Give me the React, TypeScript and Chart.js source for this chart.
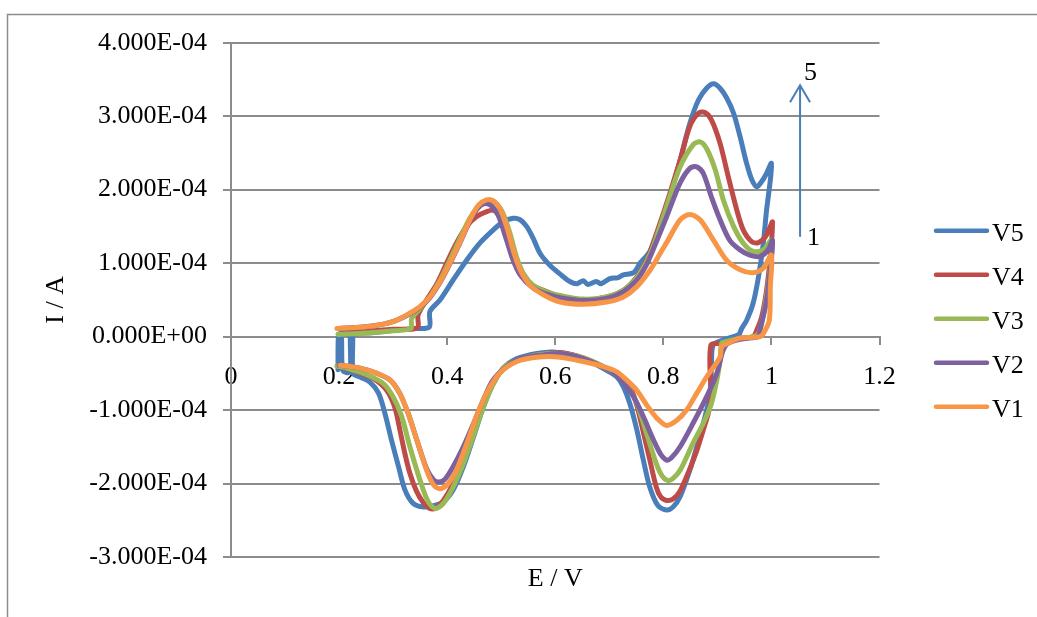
import React, { useEffect, useRef } from 'react';
import { Chart, registerables } from 'chart.js';

Chart.register(...registerables);

// Currents are listed in units of 1e-4 A, potentials in V.
const I_UNIT = 1e-4;

const xTickValues = [0, 0.2, 0.4, 0.6, 0.8, 1, 1.2];
const xTickLabels = ['0', '0.2', '0.4', '0.6', '0.8', '1', '1.2'];
const yTickValues = [-3e-4, -2e-4, -1e-4, 0, 1e-4, 2e-4, 3e-4, 4e-4];
const yTickLabels = ['-3.000E-04', '-2.000E-04', '-1.000E-04', '0.000E+00', '1.000E-04', '2.000E-04', '3.000E-04', '4.000E-04'];

const seriesNames = ['V5', 'V4', 'V3', 'V2', 'V1'];
const seriesColors = ['#4A7EBB', '#BE4B48', '#98B954', '#7D60A0', '#F79646'];

// [E (V), I (1e-4 A)] in scan order
const v5Points: [number, number][] = [
  [0.2, 0.02], [0.233, 0.04], [0.27, 0.06], [0.306, 0.09], [0.34, 0.11], [0.367, 0.13], [0.368, 0.34],
  [0.387, 0.5], [0.411, 0.77], [0.436, 1.04], [0.46, 1.27], [0.485, 1.45], [0.503, 1.56], [0.522, 1.61],
  [0.535, 1.59], [0.547, 1.5], [0.559, 1.34], [0.572, 1.13], [0.59, 0.97], [0.609, 0.85], [0.627, 0.75],
  [0.64, 0.72], [0.652, 0.76], [0.66, 0.71], [0.676, 0.75], [0.685, 0.72], [0.701, 0.79], [0.715, 0.8],
  [0.726, 0.84], [0.745, 0.87], [0.757, 1.0], [0.775, 1.16], [0.794, 1.5], [0.812, 1.9], [0.831, 2.4],
  [0.849, 2.9], [0.865, 3.22], [0.88, 3.38], [0.893, 3.44], [0.905, 3.38], [0.917, 3.25], [0.93, 3.04],
  [0.942, 2.72], [0.954, 2.36], [0.964, 2.13], [0.973, 2.04], [0.982, 2.11], [0.991, 2.22], [1.0, 2.36],
  [0.998, 2.13], [0.991, 1.72], [0.985, 1.27], [0.976, 0.81], [0.966, 0.45], [0.954, 0.22], [0.945, 0.11],
  [0.94, 0.03], [0.93, 0.0], [0.91, -0.05], [0.892, -0.12], [0.889, -0.45], [0.886, -0.8], [0.874, -1.18],
  [0.862, -1.5], [0.849, -1.82], [0.831, -2.18], [0.818, -2.32], [0.806, -2.36], [0.79, -2.3], [0.775, -2.05],
  [0.763, -1.68], [0.751, -1.27], [0.738, -0.91], [0.726, -0.68], [0.714, -0.55], [0.695, -0.46],
  [0.664, -0.34], [0.633, -0.25], [0.596, -0.21], [0.566, -0.23], [0.529, -0.3], [0.504, -0.43],
  [0.485, -0.64], [0.467, -0.96], [0.449, -1.36], [0.43, -1.77], [0.411, -2.09], [0.393, -2.25],
  [0.375, -2.3], [0.356, -2.32], [0.337, -2.27], [0.322, -2.09], [0.31, -1.77], [0.297, -1.41],
  [0.285, -1.05], [0.273, -0.77], [0.257, -0.62], [0.239, -0.55], [0.226, -0.5], [0.225, 0.03],
  [0.221, 0.03], [0.22, -0.48], [0.207, -0.46], [0.204, 0.03], [0.199, 0.03], [0.198, -0.45],
];

const v4Points: [number, number][] = [
  [0.205, 0.05], [0.25, 0.07], [0.3, 0.1], [0.345, 0.12], [0.346, 0.29], [0.362, 0.5], [0.381, 0.72],
  [0.399, 1.0], [0.417, 1.27], [0.436, 1.5], [0.454, 1.63], [0.473, 1.7], [0.485, 1.72], [0.497, 1.66],
  [0.51, 1.45], [0.522, 1.13], [0.535, 0.88], [0.553, 0.72], [0.578, 0.63], [0.609, 0.55], [0.652, 0.5],
  [0.695, 0.54], [0.726, 0.63], [0.751, 0.81], [0.769, 1.04], [0.781, 1.27], [0.806, 1.81], [0.831, 2.4],
  [0.849, 2.86], [0.865, 3.04], [0.877, 3.05], [0.889, 2.95], [0.905, 2.63], [0.92, 2.18], [0.936, 1.72],
  [0.948, 1.45], [0.964, 1.29], [0.976, 1.28], [0.989, 1.36], [0.998, 1.5], [1.002, 1.56],
  [0.998, 1.09], [0.991, 0.63], [0.982, 0.27], [0.973, 0.09], [0.966, 0.0], [0.945, -0.02], [0.935, -0.04],
  [0.91, -0.09], [0.888, -0.12], [0.888, -0.82], [0.883, -1.05], [0.874, -1.27], [0.862, -1.55],
  [0.849, -1.8], [0.831, -2.1], [0.818, -2.21], [0.806, -2.23], [0.795, -2.18], [0.787, -2.05],
  [0.775, -1.68], [0.762, -1.27], [0.75, -0.91], [0.737, -0.66], [0.717, -0.52], [0.695, -0.43],
  [0.652, -0.29], [0.609, -0.22], [0.566, -0.25], [0.529, -0.32], [0.504, -0.43], [0.485, -0.64],
  [0.467, -0.93], [0.449, -1.32], [0.43, -1.68], [0.411, -2.0], [0.393, -2.23], [0.38, -2.33],
  [0.368, -2.34], [0.355, -2.25], [0.343, -2.1], [0.331, -1.86], [0.322, -1.6], [0.312, -1.25],
  [0.303, -0.96], [0.288, -0.73], [0.263, -0.57], [0.233, -0.48], [0.202, -0.41],
];

const v3Points: [number, number][] = [
  [0.198, 0.03], [0.25, 0.05], [0.3, 0.08], [0.333, 0.11], [0.334, 0.24], [0.35, 0.38], [0.368, 0.54],
  [0.387, 0.77], [0.405, 1.04], [0.424, 1.34], [0.442, 1.61], [0.46, 1.79], [0.476, 1.85], [0.491, 1.81],
  [0.503, 1.68], [0.516, 1.41], [0.528, 1.09], [0.541, 0.86], [0.559, 0.7], [0.583, 0.61], [0.609, 0.56],
  [0.652, 0.51], [0.695, 0.54], [0.726, 0.63], [0.751, 0.8], [0.769, 1.02], [0.781, 1.22], [0.806, 1.77],
  [0.831, 2.31], [0.855, 2.61], [0.868, 2.65], [0.88, 2.56], [0.896, 2.27], [0.911, 1.86], [0.93, 1.5],
  [0.948, 1.27], [0.966, 1.16], [0.985, 1.18], [1.0, 1.31],
  [0.998, 0.95], [0.991, 0.55], [0.982, 0.18], [0.975, 0.03], [0.96, -0.01], [0.94, -0.03], [0.915, -0.07],
  [0.908, -0.09], [0.905, -0.32], [0.899, -0.59], [0.889, -0.91], [0.874, -1.18], [0.855, -1.45],
  [0.831, -1.82], [0.818, -1.93], [0.809, -1.96], [0.798, -1.9], [0.787, -1.73], [0.769, -1.32],
  [0.751, -0.91], [0.732, -0.66], [0.714, -0.52], [0.695, -0.43], [0.652, -0.29], [0.609, -0.23],
  [0.566, -0.25], [0.529, -0.32], [0.504, -0.43], [0.485, -0.65], [0.467, -0.96], [0.449, -1.34],
  [0.43, -1.73], [0.411, -2.05], [0.393, -2.27], [0.378, -2.34], [0.365, -2.25], [0.35, -1.96],
  [0.331, -1.5], [0.316, -1.09], [0.3, -0.82], [0.282, -0.64], [0.251, -0.52], [0.214, -0.43], [0.196, -0.4],
];

const v2Points: [number, number][] = [
  [0.2, 0.11], [0.244, 0.13], [0.282, 0.17], [0.306, 0.22], [0.331, 0.31], [0.35, 0.4], [0.368, 0.53],
  [0.387, 0.74], [0.405, 0.99], [0.424, 1.28], [0.442, 1.57], [0.456, 1.74], [0.469, 1.81], [0.482, 1.78],
  [0.495, 1.64], [0.51, 1.31], [0.522, 1.04], [0.535, 0.84], [0.559, 0.66], [0.583, 0.58], [0.609, 0.53],
  [0.652, 0.49], [0.695, 0.52], [0.726, 0.61], [0.751, 0.77], [0.769, 0.98], [0.781, 1.18], [0.806, 1.63],
  [0.831, 2.09], [0.849, 2.29], [0.862, 2.31], [0.874, 2.22], [0.889, 1.9], [0.905, 1.59], [0.923, 1.31],
  [0.942, 1.18], [0.96, 1.11], [0.979, 1.09], [0.994, 1.18], [1.002, 1.31],
  [0.998, 0.91], [0.99, 0.45], [0.98, 0.13], [0.975, 0.0], [0.96, -0.02], [0.94, -0.04], [0.918, -0.1],
  [0.91, -0.2], [0.899, -0.5], [0.88, -0.82], [0.855, -1.18], [0.831, -1.5], [0.815, -1.65], [0.806, -1.68],
  [0.795, -1.6], [0.782, -1.41], [0.763, -1.09], [0.745, -0.82], [0.726, -0.62], [0.71, -0.5], [0.69, -0.42],
  [0.652, -0.3], [0.609, -0.23], [0.578, -0.25], [0.535, -0.3], [0.51, -0.41], [0.485, -0.59],
  [0.467, -0.86], [0.449, -1.18], [0.43, -1.5], [0.411, -1.77], [0.396, -1.94], [0.385, -1.98],
  [0.375, -1.95], [0.362, -1.8], [0.344, -1.41], [0.328, -1.05], [0.312, -0.77], [0.294, -0.59],
  [0.27, -0.5], [0.239, -0.43], [0.2, -0.39],
];

const v1Points: [number, number][] = [
  [0.196, 0.11], [0.244, 0.13], [0.282, 0.17], [0.306, 0.22], [0.331, 0.32], [0.35, 0.41], [0.368, 0.54],
  [0.387, 0.75], [0.405, 1.0], [0.424, 1.29], [0.442, 1.59], [0.458, 1.79], [0.473, 1.86], [0.485, 1.85],
  [0.497, 1.75], [0.51, 1.5], [0.522, 1.18], [0.535, 0.91], [0.553, 0.7], [0.578, 0.57], [0.609, 0.47],
  [0.652, 0.44], [0.695, 0.47], [0.726, 0.54], [0.751, 0.68], [0.776, 0.91], [0.794, 1.13], [0.81, 1.33],
  [0.831, 1.59], [0.849, 1.66], [0.868, 1.59], [0.893, 1.31], [0.917, 1.04], [0.942, 0.91], [0.966, 0.87],
  [0.985, 0.93], [1.0, 1.11],
  [0.998, 0.68], [0.996, 0.22], [0.985, 0.04], [0.979, 0.0], [0.967, -0.01], [0.942, -0.02], [0.92, -0.09],
  [0.908, -0.14], [0.905, -0.28], [0.88, -0.55], [0.862, -0.77], [0.843, -1.0], [0.825, -1.14],
  [0.806, -1.21], [0.788, -1.11], [0.769, -0.93], [0.751, -0.73], [0.732, -0.59], [0.714, -0.48],
  [0.689, -0.41], [0.652, -0.34], [0.609, -0.28], [0.566, -0.28], [0.529, -0.34], [0.497, -0.5],
  [0.473, -0.77], [0.454, -1.09], [0.436, -1.46], [0.417, -1.82], [0.402, -2.0], [0.387, -2.07],
  [0.375, -2.02], [0.362, -1.82], [0.344, -1.41], [0.328, -1.05], [0.312, -0.77], [0.294, -0.59],
  [0.27, -0.5], [0.239, -0.43], [0.202, -0.39],
];

const seriesPoints = [v5Points, v4Points, v3Points, v2Points, v1Points];

// Arrow annotation: potential, currents (1e-4 A) at its foot and head, and its labels
const arrowE = [1.053];
const arrowI = [1.36, 3.42];
const arrowLabels = ['1', '5'];

const FONT = "'Liberation Serif', 'Times New Roman', serif";
const GRID = '#8c8c8c';

const decor = {
  id: 'decor',
  beforeDraw(chart: any) {
    const { ctx, width, height } = chart;
    ctx.save();
    ctx.fillStyle = '#ffffff';
    ctx.fillRect(0, 0, width, height);
    ctx.strokeStyle = GRID;
    ctx.lineWidth = 1.5;
    ctx.beginPath();
    ctx.moveTo(7.5, height);
    ctx.lineTo(7.5, 14.5);
    ctx.lineTo(width, 14.5);
    ctx.stroke();
    ctx.restore();
  },
  afterDraw(chart: any) {
    const { ctx, chartArea, scales } = chart;
    const xs = scales.x;
    const ys = scales.y;
    ctx.save();
    ctx.font = `26px ${FONT}`;
    ctx.fillStyle = '#000';
    ctx.textAlign = 'center';
    ctx.textBaseline = 'middle';
    ctx.fillText('E / V', (chartArea.left + chartArea.right) / 2, 579);
    ctx.save();
    ctx.translate(56, (chartArea.top + chartArea.bottom) / 2);
    ctx.rotate(-Math.PI / 2);
    ctx.fillText('I / A', 0, 0);
    ctx.restore();

    // legend
    ctx.lineCap = 'round';
    ctx.lineWidth = 4.5;
    seriesNames.forEach((name, i) => {
      const y = 230.7 + 44 * i;
      ctx.strokeStyle = seriesColors[i];
      ctx.beginPath();
      ctx.moveTo(936, y);
      ctx.lineTo(987, y);
      ctx.stroke();
      ctx.textAlign = 'left';
      ctx.fillText(name, 992, y + 3);
    });

    // arrow
    const ax = xs.getPixelForValue(arrowE[0]);
    const yFoot = ys.getPixelForValue(arrowI[0] * I_UNIT);
    const yHead = ys.getPixelForValue(arrowI[1] * I_UNIT);
    ctx.strokeStyle = seriesColors[0];
    ctx.lineWidth = 2;
    ctx.lineCap = 'butt';
    ctx.beginPath();
    ctx.moveTo(ax, yFoot);
    ctx.lineTo(ax, yHead);
    ctx.moveTo(ax - 10, yHead + 17);
    ctx.lineTo(ax, yHead);
    ctx.lineTo(ax + 10, yHead + 17);
    ctx.stroke();
    ctx.textAlign = 'left';
    ctx.fillText(arrowLabels[1], ax + 4, yHead - 12);
    ctx.fillText(arrowLabels[0], ax + 7, yFoot + 2);
    ctx.restore();
  },
};

export default function App() {
  const ref = useRef<HTMLCanvasElement>(null);
  useEffect(() => {
    const canvas = ref.current;
    if (!canvas) return;
    const order = [4, 3, 2, 1, 0]; // V1 drawn on top
    const datasets = order.map((k) => ({
      label: seriesNames[k],
      data: seriesPoints[k].map(([e, i]) => ({ x: e, y: i * I_UNIT })),
      showLine: true,
      borderColor: seriesColors[k],
      backgroundColor: seriesColors[k],
      borderWidth: 5,
      borderCapStyle: 'round' as const,
      borderJoinStyle: 'round' as const,
      pointRadius: 0,
      pointHoverRadius: 0,
      tension: 0.3,
      fill: false,
    }));
    const font = { family: FONT, size: 26 };
    const chart = new Chart(canvas, {
      type: 'scatter',
      data: { datasets },
      options: {
        responsive: false,
        animation: false,
        devicePixelRatio: 1,
        events: [],
        layout: { padding: { left: 0, top: 42.7, right: 157.5, bottom: 60 } },
        plugins: { legend: { display: false }, tooltip: { enabled: false } },
        scales: {
          x: {
            type: 'linear',
            position: { y: 0 },
            min: 0,
            max: 1.2,
            afterBuildTicks: (s: any) => {
              s.ticks = xTickValues.map((v) => ({ value: v }));
            },
            ticks: {
              callback: (_v: any, i: number) => xTickLabels[i],
              autoSkip: false,
              maxRotation: 0,
              padding: 18,
              color: '#000',
              font,
            },
            grid: { drawOnChartArea: false, drawTicks: true, tickLength: 7, color: GRID, lineWidth: 2 },
            border: { display: true, color: GRID, width: 2 },
          },
          y: {
            type: 'linear',
            position: 'left',
            min: -3e-4,
            max: 4e-4,
            afterBuildTicks: (s: any) => {
              s.ticks = yTickValues.map((v) => ({ value: v }));
            },
            afterFit: (s: any) => {
              s.width = 231;
            },
            ticks: {
              callback: (_v: any, i: number) => yTickLabels[i],
              autoSkip: false,
              padding: 16,
              color: '#000',
              font,
            },
            grid: { drawOnChartArea: true, drawTicks: true, tickLength: 8, color: GRID, lineWidth: 2 },
            border: { display: true, color: GRID, width: 2 },
          },
        },
      } as any,
      plugins: [decor],
    });
    return () => chart.destroy();
  }, []);
  return (
    <div style={{ position: 'fixed', left: 0, top: 0, width: 1037, height: 617, background: '#fff' }}>
      <canvas ref={ref} width={1037} height={617} style={{ display: 'block' }} />
    </div>
  );
}
